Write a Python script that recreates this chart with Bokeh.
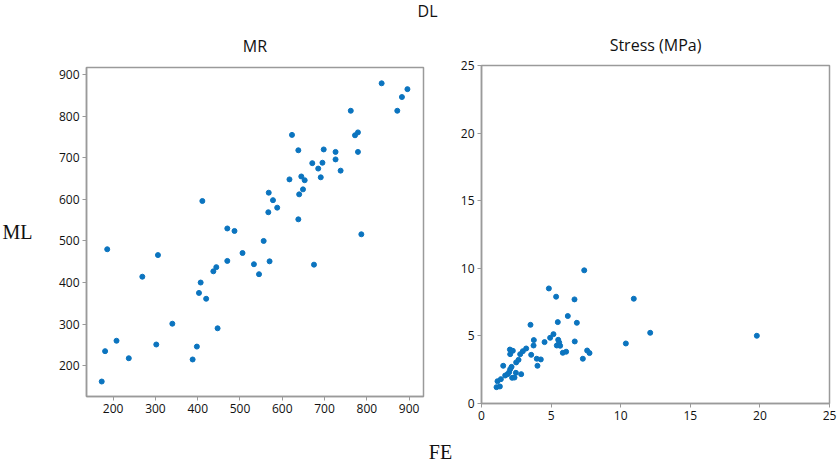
from bokeh.plotting import figure
from bokeh.layouts import column, row
from bokeh.models import FixedTicker, Range1d, Title
from bokeh.core.properties import value
from bokeh.embed import file_html
from bokeh.resources import INLINE

# ---- data: MR panel ----
mr_fe = [173, 181, 186, 208, 237, 269, 302, 306, 340, 388, 398, 403, 407, 411, 420,
         437, 444, 447, 470, 470, 487, 506, 533, 545, 556, 567, 568, 570, 578, 588,
         617, 623, 638, 638, 640, 645, 649, 653, 671, 675, 685, 691, 695, 698, 726,
         726, 738, 762, 772, 779, 779, 787, 835, 872, 883, 896]
mr_ml = [162, 235, 480, 260, 218, 414, 251, 466, 301, 215, 246, 375, 400, 596, 361,
         427, 437, 290, 530, 452, 524, 471, 444, 420, 500, 569, 616, 451, 598, 580,
         648, 755, 718, 552, 612, 655, 624, 646, 687, 443, 674, 653, 688, 720, 714,
         696, 669, 813, 754, 761, 714, 516, 879, 813, 846, 865]

# ---- data: Stress panel ----
st_fe = [1.08, 1.32, 1.15, 1.39, 1.56, 1.70, 1.87, 1.99, 2.06, 2.16, 2.04, 2.06, 2.25,
         2.20, 2.37, 2.47, 2.49, 2.66, 2.78, 2.85, 2.97, 3.21, 3.52, 3.57, 3.74, 3.76,
         4.02, 3.97, 4.26, 4.53, 4.84, 4.93, 5.17, 5.36, 5.41, 5.51, 5.58, 5.65, 5.48,
         5.84, 6.08, 6.20, 6.68, 6.70, 6.85, 7.28, 7.38, 7.59, 7.76, 10.37, 10.94,
         12.12, 19.78]
st_ml = [1.21, 1.26, 1.65, 1.80, 2.79, 2.07, 2.17, 2.32, 2.54, 2.71, 3.99, 3.65, 3.90,
         1.90, 1.92, 2.27, 3.04, 3.23, 3.65, 2.17, 3.87, 4.07, 5.82, 3.60, 4.29, 4.69,
         2.79, 3.31, 3.26, 4.54, 8.51, 4.86, 5.13, 7.90, 4.29, 4.71, 4.52, 4.27, 6.02,
         3.75, 3.83, 6.47, 7.70, 4.59, 5.97, 3.31, 9.85, 3.92, 3.73, 4.44, 7.75,
         5.23, 5.01]

mr_ticks = [200, 300, 400, 500, 600, 700, 800, 900]
st_ticks = [0, 5, 10, 15, 20, 25]

SANS = "Open Sans"
SERIF = "Liberation Serif"
DOT = "#0b74bf"
GRAY = "#9a9a9a"
TOTAL_W = 837
TOP_H = 21
ROW_H = 409
BOT_H = 32
ML_W = 40


def blank(w, h):
    f = figure(width=w, height=h, x_range=Range1d(0, w), y_range=Range1d(0, h),
               toolbar_location=None, output_backend="svg", min_border=0)
    f.axis.visible = False
    f.grid.visible = False
    f.outline_line_color = None
    return f


def style(p):
    p.grid.visible = False
    p.outline_line_color = GRAY
    p.outline_line_width = 1.5
    for ax in (p.xaxis, p.yaxis):
        ax.axis_line_color = GRAY
        ax.axis_line_width = 1.5
        ax.major_tick_line_color = GRAY
        ax.major_tick_out = 4
        ax.major_tick_in = 0
        ax.minor_tick_line_color = None
        ax.major_label_text_font = SANS
        ax.major_label_text_font_size = "12px"
        ax.major_label_text_color = "#111111"
        ax.major_label_standoff = 3


def panel_title(p, text, standoff):
    t = Title(text=text, align="center", text_font=SANS, text_font_size="16px",
              text_font_style="normal", text_color="#111111", standoff=standoff)
    p.add_layout(t, "above")


# top strip with "DL"
top = blank(TOTAL_W, TOP_H)
top.text(x=[427], y=[TOP_H - 10.5], text=["DL"], text_align="center", text_baseline="middle",
         text_font=value(SANS), text_font_size="16px", text_color="#111111")

# narrow strip with "ML"
mlfig = blank(ML_W, ROW_H)
mlfig.text(x=[17], y=[ROW_H - (225 - TOP_H)], text=["ML"], text_align="center",
           text_baseline="middle", text_font=value(SERIF), text_font_size="20px",
           text_color="#111111")

# left panel
W1 = 453
left = figure(width=W1 - ML_W, height=ROW_H, x_range=Range1d(137, 934), y_range=Range1d(126, 917),
              toolbar_location=None, output_backend="svg",
              min_border_left=86 - ML_W, min_border_right=W1 - 423,
              min_border_top=67 - TOP_H, min_border_bottom=ROW_H - (396 - TOP_H))
style(left)
panel_title(left, "MR", 22)
left.scatter(mr_fe, mr_ml, size=5, color=DOT)
left.xaxis.ticker = FixedTicker(ticks=mr_ticks)
left.yaxis.ticker = FixedTicker(ticks=mr_ticks)

# right panel
right = figure(width=TOTAL_W - W1, height=ROW_H, x_range=Range1d(0, 25), y_range=Range1d(0, 25),
               toolbar_location=None, output_backend="svg",
               min_border_left=481 - W1, min_border_right=8,
               min_border_top=65 - TOP_H, min_border_bottom=ROW_H - (403 - TOP_H))
style(right)
panel_title(right, "Stress (MPa)", 20)
right.scatter(st_fe, st_ml, size=5, color=DOT)
right.xaxis.ticker = FixedTicker(ticks=st_ticks)
right.yaxis.ticker = FixedTicker(ticks=st_ticks)

# bottom strip with "FE"
bottom = blank(TOTAL_W, BOT_H)
bottom.text(x=[440], y=[BOT_H - 21], text=["FE"], text_align="center", text_baseline="middle",
            text_font=value(SERIF), text_font_size="20px", text_color="#111111")

page = column(top, row(mlfig, left, column(right)), bottom)
open("out.html", "w").write(file_html(page, INLINE))
